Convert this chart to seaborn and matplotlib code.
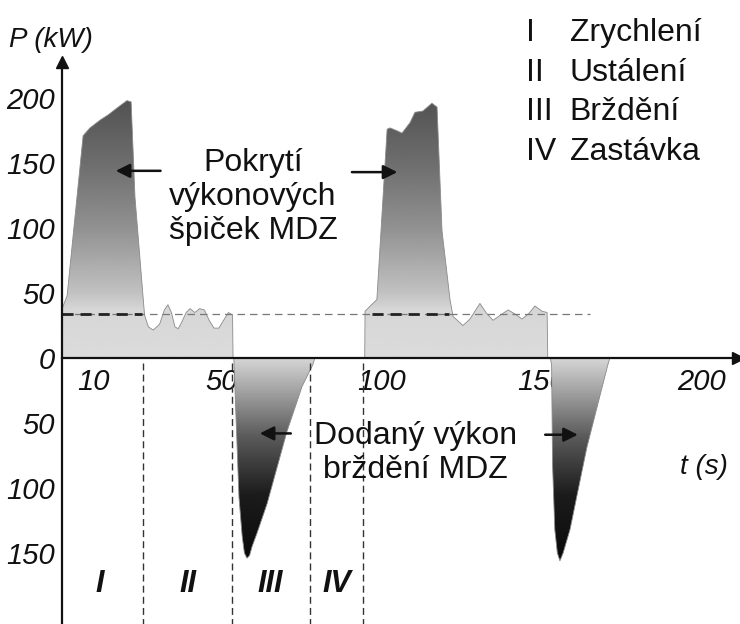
import numpy as np
import matplotlib
matplotlib.use("Agg")
import matplotlib.pyplot as plt
from matplotlib.ticker import FuncFormatter, MultipleLocator
from matplotlib.font_manager import FontProperties
import seaborn as sns

# ---------------- data ----------------
time_s = [
    0.0, 0.05, 1.6, 6.6, 8.75, 11.9, 14.4, 18.1, 20.3, 21.6, 22.8, 25.3,
    25.8, 27.0, 28.5, 30.5, 32.0, 33.1, 34.2, 35.3, 36.3, 37.5, 38.8, 40.0,
    41.5, 43.0, 44.5, 46.0, 47.5, 49.0, 50.5, 52.0, 53.3, 53.45,
    53.7, 54.0, 54.4, 55.3, 56.3, 57.0, 57.8, 58.6, 59.4, 60.9, 64.1, 70.3,
    75.0, 78.4, 79.0,
    94.6, 94.7, 98.4, 101.6, 102.5, 104.5, 106.25, 108.75, 110.3, 112.8,
    115.6, 117.2, 118.75, 121.25,
    122.2, 125.3, 127.5, 130.6, 132.5, 134.7, 137.0, 139.4, 141.5, 143.75,
    145.8, 147.8, 150.0, 151.6, 151.8,
    152.6, 153.0, 153.3, 154.0, 154.8, 155.6, 156.6, 158.75, 164.0, 168.0,
    170.6, 171.2,
]
power_kw = [
    0, 38, 48, 171, 177, 183, 187, 194, 198, 197, 124, 48,
    33, 24, 21.5, 26, 37, 41, 35, 24, 22.5, 28, 35, 38,
    35, 38, 37, 29, 23, 23, 29, 35, 33, 0,
    0, -20, -47, -107, -137, -150, -154, -152, -145, -135, -112, -56.5,
    -22, -5, 0,
    0, 36, 45, 176, 177, 175, 173, 181, 189, 190,
    196, 193, 98, 45,
    32, 25, 30, 42, 35, 29, 33, 37, 34, 30,
    34, 40, 36, 35, 0,
    0, -5, -82, -132, -150, -156, -150, -132, -69, -30,
    -5, 0,
]

x_ticks = [10, 50, 100, 150, 200]
y_ticks = [-150, -100, -50, 0, 50, 100, 150, 200]
phase_bounds = [25.4, 53.0, 77.5, 94.2]
phase_labels = ["I", "II", "III", "IV"]
phase_centers = [11.9, 39.5, 65.2, 86.0]
legend_numerals = ["I", "II", "III", "IV"]
legend_names = ["Zrychlení", "Ustálení", "Brždění", "Zastávka"]
ref_level = 34
ref_end = 165

# ---------------- figure ----------------
sns.set_theme(style="white")
plt.rcParams["font.family"] = ["Liberation Sans", "DejaVu Sans"]

fig = plt.figure(figsize=(7.4, 6.24), dpi=100)
ax = fig.add_axes([0, 0, 1, 1])
xlo, xhi = -19.375, 211.875
ylo, yhi = -204.6, 275.4

# gradient fill of the power curve
poly = ax.fill_between(time_s, power_kw, 0, facecolor="none", edgecolor="none")
yy = np.linspace(ylo, yhi, 800)
g = np.where(
    yy >= 0,
    np.interp(yy, [0, 38, 50, 100, 150, 200], [0.86, 0.84, 0.76, 0.57, 0.43, 0.32]),
    np.interp(-yy, [0, 15, 60, 105, 155], [0.84, 0.72, 0.36, 0.11, 0.04]),
)
im = ax.imshow(g[:, None], extent=[xlo, xhi, ylo, yhi], origin="lower",
               cmap="gray", vmin=0, vmax=1, aspect="auto",
               interpolation="bilinear", zorder=1)
im.set_clip_path(poly.get_paths()[0], transform=ax.transData)

sns.lineplot(x=time_s, y=power_kw, sort=False, estimator=None, ax=ax,
             color="#8a8a8a", lw=0.6, zorder=2)

# reference (average) power level
ax.plot([0, ref_end], [ref_level, ref_level], ls=(0, (6, 4)), color="#777777",
        lw=0.9, zorder=3)
ax.plot([0, 25], [ref_level, ref_level], ls=(0, (4, 2.5)), color="#222222",
        lw=2.0, zorder=3)
ax.plot([97, 121], [ref_level, ref_level], ls=(0, (4, 2.5)), color="#222222",
        lw=2.0, zorder=3)

# phase boundaries
for b in phase_bounds:
    ax.plot([b, b], [-4, ylo], ls=(0, (5, 3)), color="#333333", lw=1.0, zorder=3)

# axes
ax.set_xlim(xlo, xhi)
ax.set_ylim(ylo, yhi)
for s in ["top", "right"]:
    ax.spines[s].set_visible(False)
ax.spines["left"].set_position(("data", 0))
ax.spines["bottom"].set_position(("data", 0))
ax.spines["left"].set_bounds(ylo, 226)
ax.spines["bottom"].set_bounds(0, 211)
for s in ["left", "bottom"]:
    ax.spines[s].set_linewidth(1.6)
    ax.spines[s].set_color("#111111")
    ax.spines[s].set_zorder(4)
ax.plot(0, 228, marker="^", ms=8, color="#111111", clip_on=False, zorder=5)
ax.plot(211.2, 0, marker=">", ms=8, color="#111111", clip_on=False, zorder=5)

tick_fp = FontProperties(family="Liberation Sans", style="italic", size=21)
ax.set_xticks(x_ticks)
ax.set_yticks(y_ticks)
ax.yaxis.set_major_formatter(FuncFormatter(lambda v, _: f"{abs(v):.0f}"))
ax.xaxis.set_minor_locator(MultipleLocator(10))
ax.yaxis.set_minor_locator(MultipleLocator(25))
for lab in ax.get_xticklabels() + ax.get_yticklabels():
    lab.set_fontproperties(tick_fp)
ax.tick_params(axis="both", which="both", direction="inout", color="#111111",
               width=1.2, colors="#111111")
ax.tick_params(axis="both", which="major", length=6)
ax.tick_params(axis="both", which="minor", length=5)
ax.tick_params(axis="x", which="major", pad=4)
ax.tick_params(axis="y", which="major", pad=2)
ax.grid(False)

# axis titles
ax.text(-3.5, 245, "P (kW)", ha="center", va="center", color="#111111",
        family="Liberation Sans", style="italic", size=20)
ax.text(200.5, -84, "t (s)", ha="center", va="center", color="#111111",
        family="Liberation Sans", style="italic", size=20)

# phase numerals
for c, lab in zip(phase_centers, phase_labels):
    ax.text(c, -174, lab, ha="center", va="center", fontsize=22,
            fontweight="bold", style="italic", color="#111111",
            family="Liberation Sans")

# legend block
for i, (num, name) in enumerate(zip(legend_numerals, legend_names)):
    yv = 250 - i * 30.5
    ax.text(145.0, yv, num, ha="left", va="center", fontsize=23, color="#111111")
    ax.text(158.6, yv, name, ha="left", va="center", fontsize=23, color="#111111")

# annotations
ax.text(59.7, 124, "Pokrytí\nvýkonových\nšpiček MDZ", ha="center", va="center",
        fontsize=23, color="#111111", linespacing=1.17, zorder=6)
ax.text(110.5, -73, "Dodaný výkon\nbrždění MDZ", ha="center", va="center",
        fontsize=23, color="#111111", linespacing=1.17, zorder=6)

arrow_kw = dict(arrowstyle="-|>,head_length=0.7,head_width=0.35",
                color="#111111", lw=1.8, shrinkA=0, shrinkB=0)
ax.annotate("", xy=(16.8, 144), xytext=(30.8, 144), arrowprops=arrow_kw, zorder=6)
ax.annotate("", xy=(104.8, 143), xytext=(90.6, 143), arrowprops=arrow_kw, zorder=6)
ax.annotate("", xy=(61.8, -58), xytext=(71.5, -58), arrowprops=arrow_kw, zorder=6)
ax.annotate("", xy=(161.2, -59), xytext=(151.0, -59), arrowprops=arrow_kw, zorder=6)

fig.savefig("out.png", dpi=100, facecolor="white")
